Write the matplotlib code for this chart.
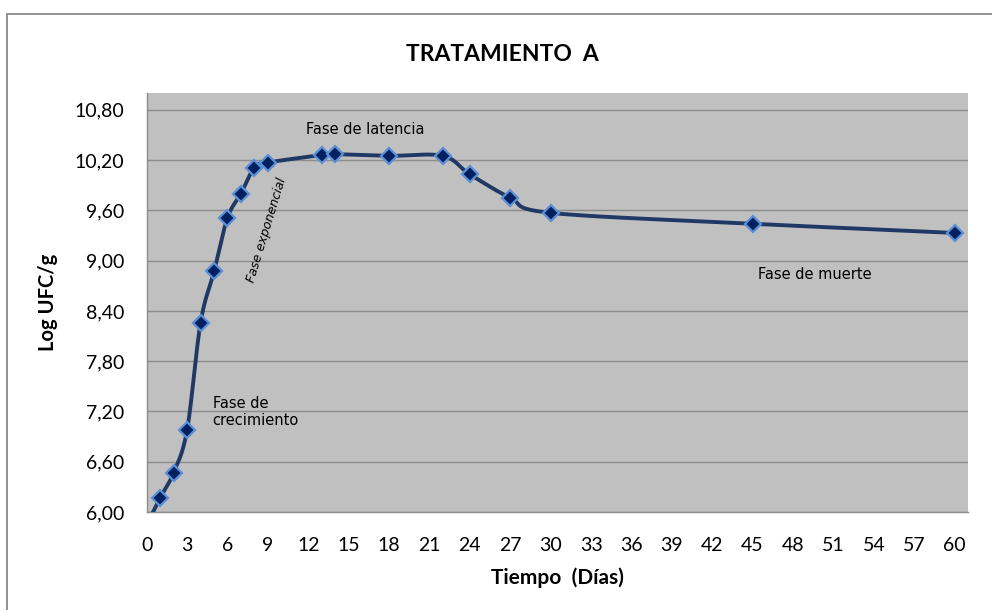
import numpy as np
import matplotlib.pyplot as plt
from matplotlib.patches import Rectangle
from matplotlib.ticker import FuncFormatter

# dias de muestreo y recuento (log UFC/g)
dias = [0, 1, 2, 3, 4, 5, 6, 7, 8, 9, 13, 14, 18, 22, 24, 27, 30, 45, 60]
log_ufc = [5.85, 6.17, 6.47, 6.98, 8.26, 8.87, 9.51, 9.80, 10.11, 10.17,
           10.26, 10.27, 10.25, 10.25, 10.03, 9.75, 9.57, 9.44, 9.33]

y_ticks = [6.00, 6.60, 7.20, 7.80, 8.40, 9.00, 9.60, 10.20, 10.80]
x_ticks = list(range(0, 61, 3))

LINE_COLOR = "#1F3864"
MARKER_FACE = "#002060"
MARKER_EDGE = "#5B8FD6"


def smooth_curve(x, y, n=40):
    """Curva suavizada tipo Bezier (como la linea suavizada de Excel)"""
    pts = np.column_stack([x, y]).astype(float)
    out = []
    for i in range(len(pts) - 1):
        p0 = pts[i - 1] if i > 0 else pts[i]
        p1 = pts[i]
        p2 = pts[i + 1]
        p3 = pts[i + 2] if i + 2 < len(pts) else pts[i + 1]
        c1 = p1 + (p2 - p0) / 6.0
        c2 = p2 - (p3 - p1) / 6.0
        t = np.linspace(0, 1, n)[:, None]
        seg = ((1 - t) ** 3 * p1 + 3 * (1 - t) ** 2 * t * c1
               + 3 * (1 - t) * t ** 2 * c2 + t ** 3 * p2)
        out.append(seg if i == 0 else seg[1:])
    curve = np.vstack(out)
    return curve[:, 0], curve[:, 1]


def main():
    fig = plt.figure(figsize=(9.92, 6.10), dpi=100)
    fig.patches.append(Rectangle((7 / 992, -0.1), 1.2, 1.1 - 14 / 610,
                                 transform=fig.transFigure, fill=False,
                                 edgecolor="#7F7F7F", linewidth=1.2))
    ax = fig.add_axes([0.1479, 0.1607, 0.9758 - 0.1479, 0.8475 - 0.1607])
    ax.set_facecolor("#C0C0C0")

    xs, ys = smooth_curve(dias, log_ufc)
    ax.plot(xs, ys, color=LINE_COLOR, linewidth=2.8, zorder=3,
            solid_capstyle="round")
    ax.plot(dias, log_ufc, linestyle="none", marker="D", markersize=8.5,
            markerfacecolor=MARKER_FACE, markeredgecolor=MARKER_EDGE,
            markeredgewidth=1.6, zorder=4)

    ax.set_xlim(0, 61)
    ax.set_ylim(6.0, 11.0)
    ax.set_xticks(x_ticks)
    ax.set_yticks(y_ticks)
    ax.yaxis.set_major_formatter(
        FuncFormatter(lambda v, p: ("%.2f" % v).replace(".", ",")))
    ax.tick_params(axis="x", length=0, labelsize=14, pad=18)
    ax.tick_params(axis="y", length=0, labelsize=14, pad=16)
    for lab in ax.get_xticklabels() + ax.get_yticklabels():
        lab.set_family("Lato")
    ax.grid(axis="y", color="#8C8C8C", linewidth=1.0)
    ax.set_axisbelow(True)
    for side in ["top", "right"]:
        ax.spines[side].set_visible(False)
    for side in ["left", "bottom"]:
        ax.spines[side].set_color("#8C8C8C")
        ax.spines[side].set_linewidth(1.0)

    ax.set_xlabel("Tiempo  (Días)", family="Lato", fontweight="bold",
                  fontsize=15, labelpad=10)
    ax.set_ylabel("Log UFC/g", family="Lato", fontweight="bold",
                  fontsize=14.5, labelpad=12)
    fig.text(0.506, 0.91, "TRATAMIENTO  A", family="Lato",
             fontweight="bold", fontsize=16.5, ha="center", va="center")

    ax.text(16.2, 10.57, "Fase de latencia", fontsize=10.5,
            ha="center", va="center")
    ax.text(8.9, 9.37, "Fase exponencial", fontsize=9, style="italic",
            rotation=73, ha="center", va="center")
    ax.text(4.9, 7.19, "Fase de\ncrecimiento", fontsize=10.5,
            ha="left", va="center", linespacing=1.2)
    ax.text(49.6, 8.84, "Fase de muerte", fontsize=10.5,
            ha="center", va="center")

    fig.savefig("out.png", dpi=100)


if __name__ == "__main__":
    main()
